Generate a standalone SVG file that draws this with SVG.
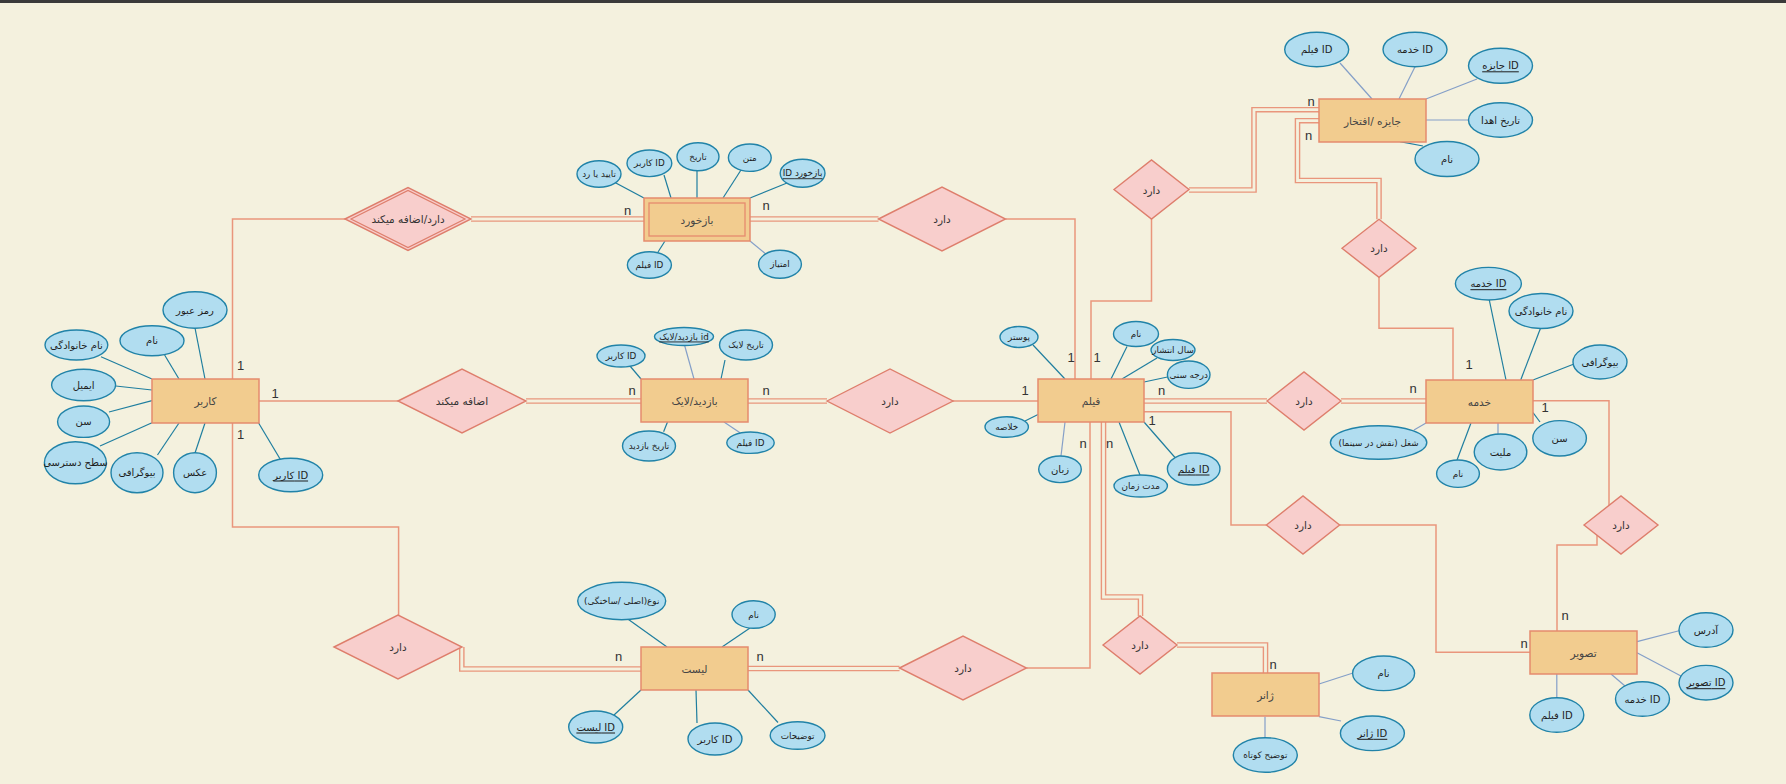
<svg xmlns="http://www.w3.org/2000/svg" width="1786" height="784" viewBox="0 0 1786 784">
<style>
.ent{fill:#F2CC8F;stroke:#E58B6E;stroke-width:1.5}
.rel{fill:#F8CECC;stroke:#DE7E6C;stroke-width:1.4}
.att{fill:#B1DDF0;stroke:#2183A8;stroke-width:1.4}
.al{stroke:#1F7E9F;stroke-width:1.2;fill:none}
.al2{stroke:#849FC8;stroke-width:1.2;fill:none}
.e1{fill:none;stroke:#E9967C;stroke-width:1.5}
.e2o{fill:none;stroke:#E9967C;stroke-width:5.6}
.e2i{fill:none;stroke:#F4F1DE;stroke-width:2.8}
text{font-family:"DejaVu Sans","Liberation Sans",sans-serif;text-anchor:middle;dominant-baseline:central;fill:#1e1e1e}
.t{font-size:10px}
.ts{font-size:8.8px}
.te{font-size:10.5px;fill:#444}
.tr{font-size:10.5px;fill:#333}
.u{text-decoration:underline}
.c{font-family:"Liberation Sans",sans-serif;font-size:13px;fill:#333}
</style>
<rect x="0" y="0" width="1786" height="784" fill="#F4F1DE"/>
<rect x="0" y="0" width="1786" height="3" fill="#3a3a3a"/>

<g id="connectors">
<path class="e1" d="M232.5,379 V219 H345"/>
<path class="e1" d="M1005.5,219 H1075 V379"/>
<path class="e1" d="M259,401 H398"/>
<path class="e1" d="M953,401 H1038"/>
<path class="e1" d="M1151.5,219 V301 H1091 V379"/>
<path class="e1" d="M1379,277.3 V328.3 H1453 V380"/>
<path class="e1" d="M1144,411.7 H1231 V525 H1266.4"/>
<path class="e1" d="M1339.6,525 H1436 V652.3 H1530"/>
<path class="e1" d="M1533,400.7 H1609 V505.4"/>
<path class="e1" d="M1597,535.2 V545 H1557 V631"/>
<path class="e1" d="M232.5,423 V527 H398.6 V615"/>
<path class="e1" d="M1026.5,668 H1090 V422"/>
<path class="e2o" d="M471,219 H644"/><path class="e2i" d="M471,219 H644"/>
<path class="e2o" d="M750,219 H878.5"/><path class="e2i" d="M750,219 H878.5"/>
<path class="e2o" d="M526,401 H641"/><path class="e2i" d="M526,401 H641"/>
<path class="e2o" d="M748,401 H827"/><path class="e2i" d="M748,401 H827"/>
<path class="e2o" d="M1144,401 H1267"/><path class="e2i" d="M1144,401 H1267"/>
<path class="e2o" d="M1341,401 H1426"/><path class="e2i" d="M1341,401 H1426"/>
<path class="e2o" d="M1319,109.7 H1254 V190 H1189"/><path class="e2i" d="M1319,109.7 H1254 V190 H1189"/>
<path class="e2o" d="M1319,120.7 H1297.5 V180.5 H1379 V219.3"/><path class="e2i" d="M1319,120.7 H1297.5 V180.5 H1379 V219.3"/>
<path class="e2o" d="M1103.5,422 V597 H1140.5 V616"/><path class="e2i" d="M1103.5,422 V597 H1140.5 V616"/>
<path class="e2o" d="M461.8,647 V669 H641"/><path class="e2i" d="M461.8,647 V669 H641"/>
<path class="e2o" d="M748,668.5 H899.5"/><path class="e2i" d="M748,668.5 H899.5"/>
<path class="e2o" d="M1177,645 H1265.5 V673"/><path class="e2i" d="M1177,645 H1265.5 V673"/>

<path class="al" d="M614,182 L644,198"/>
<path class="al" d="M664,175 L671,198"/>
<path class="al" d="M697,170.7 L697,198"/>
<path class="al" d="M741,170 L723,198"/>
<path class="al" d="M787,183 L750,198"/>
<path class="al" d="M665,241 L658,252"/>
<path class="al2" d="M750,241 L767,255"/>

<path class="al" d="M195,328 L205,379"/>
<path class="al" d="M164.6,355 L179,379"/>
<path class="al" d="M101,356.7 L152,379"/>
<path class="al" d="M115.7,386 L152,390"/>
<path class="al" d="M109,412 L152,400.7"/>
<path class="al" d="M100,446 L152,422.7"/>
<path class="al" d="M157.5,455 L179,423"/>
<path class="al" d="M195,453 L205,423"/>
<path class="al" d="M280.7,460 L258.6,423"/>

<path class="al" d="M630,366 L641,379"/>
<path class="al2" d="M684.5,345 L694,379"/>
<path class="al" d="M725,360 L721,379"/>
<path class="al" d="M667.5,422 L663.6,431.7"/>
<path class="al2" d="M724,422 L740,432.7"/>

<path class="al" d="M1033,345 L1065,379"/>
<path class="al" d="M1127,346.5 L1111,379"/>
<path class="al" d="M1157,358 L1122,379"/>
<path class="al" d="M1167.5,377 L1144,382"/>
<path class="al" d="M1025,421 L1038,414.5"/>
<path class="al2" d="M1061,456 L1065,422"/>
<path class="al" d="M1140,475 L1119,422"/>
<path class="al" d="M1175,457.5 L1144,422"/>

<path class="al" d="M1489.3,300 L1506,380"/>
<path class="al" d="M1540.4,328.5 L1520.7,380"/>
<path class="al" d="M1574,364 L1533,380"/>
<path class="al" d="M1540,422 L1533,412.7"/>
<path class="al2" d="M1498,434 L1498,423"/>
<path class="al" d="M1457,460 L1471,423"/>
<path class="al2" d="M1414,430 L1426,423"/>

<path class="al2" d="M1340,63 L1372,99"/>
<path class="al2" d="M1415,66.7 L1399,99"/>
<path class="al2" d="M1477,79 L1426,99"/>
<path class="al2" d="M1426,120 L1468.5,120"/>
<path class="al" d="M1400,141.7 L1423,146"/>

<path class="al" d="M628.5,619.5 L667,647"/>
<path class="al" d="M750,628 L722,647"/>
<path class="al" d="M614,715 L641,690"/>
<path class="al" d="M696,690 L697,723"/>
<path class="al" d="M748,690 L778,722.5"/>

<path class="al2" d="M1319,684 L1353,673"/>
<path class="al2" d="M1319,716.7 L1341,721"/>
<path class="al2" d="M1265,716.7 L1265,737.7"/>

<path class="al2" d="M1637,641.7 L1680,630.5"/>
<path class="al2" d="M1637,652.7 L1681,676"/>
<path class="al2" d="M1611,674 L1625,686"/>
<path class="al2" d="M1556.8,674 L1556.8,697.7"/>
</g>

<g id="cardinalities">
<text class="c" x="240.5" y="365">1</text>
<text class="c" x="240.5" y="434">1</text>
<text class="c" x="275" y="393">1</text>
<text class="c" x="627.5" y="210">n</text>
<text class="c" x="766" y="205">n</text>
<text class="c" x="1071" y="357">1</text>
<text class="c" x="1097" y="357">1</text>
<text class="c" x="632" y="390">n</text>
<text class="c" x="766" y="390">n</text>
<text class="c" x="1025" y="390">1</text>
<text class="c" x="1161.5" y="390.5">n</text>
<text class="c" x="1413" y="388">n</text>
<text class="c" x="1469" y="364">1</text>
<text class="c" x="1545" y="407">1</text>
<text class="c" x="1152" y="420">1</text>
<text class="c" x="1083" y="443">n</text>
<text class="c" x="1109.5" y="443">n</text>
<text class="c" x="1311" y="101">n</text>
<text class="c" x="1308.5" y="135">n</text>
<text class="c" x="1565" y="615">n</text>
<text class="c" x="1524" y="643">n</text>
<text class="c" x="1273" y="664">n</text>
<text class="c" x="618.5" y="656">n</text>
<text class="c" x="760" y="656.7">n</text>
</g>

<g id="user"><rect class="ent" x="152" y="379" width="107" height="44"/><text class="te" x="205.5" y="401">کاربر</text></g>
<g id="feedback"><rect class="ent" x="644" y="198" width="106" height="43" stroke-width="2.2"/><rect x="649" y="203" width="96" height="33" fill="none" stroke="#E58B6E" stroke-width="1.3"/><text class="te" x="697" y="219.5">بازخورد</text></g>
<g id="visit"><rect class="ent" x="641" y="379" width="107" height="43"/><text class="te" x="694.5" y="400.5">بازدید/لایک</text></g>
<g id="film"><rect class="ent" x="1038" y="379" width="106" height="43"/><text class="te" x="1091" y="400.5">فیلم</text></g>
<g id="award"><rect class="ent" x="1319" y="99" width="107" height="43"/><text class="te" x="1372.5" y="120.5">جایزه /افتخار</text></g>
<g id="crew"><rect class="ent" x="1426" y="380" width="107" height="43"/><text class="te" x="1479.5" y="401.5">خدمه</text></g>
<g id="list"><rect class="ent" x="641" y="647" width="107" height="43"/><text class="te" x="694.5" y="668.5">لیست</text></g>
<g id="genre"><rect class="ent" x="1212" y="673" width="107" height="43"/><text class="te" x="1265.5" y="694.5">ژانر</text></g>
<g id="image"><rect class="ent" x="1530" y="631" width="107" height="43"/><text class="te" x="1583.5" y="652.5">تصویر</text></g>

<g id="rel-user-feedback"><polygon class="rel" points="345,219 408,187.5 471,219 408,250.5"/><polygon points="351,219 408,190.5 465,219 408,247.5" fill="none" stroke="#DE7E6C" stroke-width="1.2"/><text class="tr" x="408" y="219">دارد/اضافه میکند</text></g>
<g id="rel-feedback-film"><polygon class="rel" points="878.5,219 942,187 1005.5,219 942,251"/><text class="tr" x="942" y="219">دارد</text></g>
<g id="rel-user-visit"><polygon class="rel" points="398,401 462,369 526,401 462,433"/><text class="tr" x="462" y="401">اضافه میکند</text></g>
<g id="rel-visit-film"><polygon class="rel" points="827,401 890,369 953,401 890,433"/><text class="tr" x="890" y="401">دارد</text></g>
<g id="rel-film-award"><polygon class="rel" points="1114,189.5 1151.5,160 1189,189.5 1151.5,219"/><text class="tr" x="1151.5" y="189.5">دارد</text></g>
<g id="rel-award-crew"><polygon class="rel" points="1342,248.3 1379,219.3 1416,248.3 1379,277.3"/><text class="tr" x="1379" y="248.3">دارد</text></g>
<g id="rel-film-crew"><polygon class="rel" points="1267,401 1304,372 1341,401 1304,430"/><text class="tr" x="1304" y="401">دارد</text></g>
<g id="rel-film-image"><polygon class="rel" points="1266.4,525 1303,496 1339.6,525 1303,554"/><text class="tr" x="1303" y="525">دارد</text></g>
<g id="rel-crew-image"><polygon class="rel" points="1584,525 1621,496 1658,525 1621,554"/><text class="tr" x="1621" y="525">دارد</text></g>
<g id="rel-film-genre"><polygon class="rel" points="1103,645 1140,616 1177,645 1140,674"/><text class="tr" x="1140" y="645">دارد</text></g>
<g id="rel-user-list"><polygon class="rel" points="334,647 398,615 462,647 398,679"/><text class="tr" x="398" y="647">دارد</text></g>
<g id="rel-list-film"><polygon class="rel" points="899.5,668 963,636 1026.5,668 963,700"/><text class="tr" x="963" y="668">دارد</text></g>

<g id="fb-approve"><ellipse class="att" cx="599" cy="174" rx="22" ry="13.3"/><text class="ts" x="599" y="174">تایید یا رد</text></g>
<g id="fb-userid"><ellipse class="att" cx="649.4" cy="163.3" rx="22.4" ry="13.3"/><text class="ts" x="649.4" y="163.3">کاربر ID</text></g>
<g id="fb-date"><ellipse class="att" cx="698" cy="156.7" rx="21" ry="14"/><text class="ts" x="698" y="156.7">تاریخ</text></g>
<g id="fb-text"><ellipse class="att" cx="749.8" cy="157.7" rx="21.4" ry="13.7"/><text class="ts" x="749.8" y="157.7">متن</text></g>
<g id="fb-id"><ellipse class="att" cx="802.6" cy="173.3" rx="22.4" ry="14"/><text class="ts u" x="802.6" y="173.3">ID بازخورد</text></g>
<g id="fb-filmid"><ellipse class="att" cx="649.4" cy="265" rx="22" ry="13.3"/><text class="ts" x="649.4" y="265">فیلم ID</text></g>
<g id="fb-score"><ellipse class="att" cx="780" cy="264.3" rx="21.4" ry="14"/><text class="ts" x="780" y="264.3">امتیاز</text></g>

<g id="u-pass"><ellipse class="att" cx="195" cy="310" rx="32" ry="18.3"/><text class="t" x="195" y="310">رمز عبور</text></g>
<g id="u-name"><ellipse class="att" cx="152" cy="340.7" rx="32" ry="15"/><text class="t" x="152" y="340.7">نام</text></g>
<g id="u-family"><ellipse class="att" cx="76.4" cy="345" rx="31.4" ry="15"/><text class="t" x="76.4" y="345">نام خانوادگی</text></g>
<g id="u-email"><ellipse class="att" cx="83.6" cy="385" rx="32" ry="15.7"/><text class="t" x="83.6" y="385">ایمیل</text></g>
<g id="u-age"><ellipse class="att" cx="83.6" cy="421.7" rx="26" ry="15.7"/><text class="t" x="83.6" y="421.7">سن</text></g>
<g id="u-access"><ellipse class="att" cx="75.4" cy="462.7" rx="31" ry="21"/><text class="t" x="75.4" y="462.7">سطح دسترسی</text></g>
<g id="u-bio"><ellipse class="att" cx="137" cy="472.7" rx="26" ry="20"/><text class="t" x="137" y="472.7">بیوگرافی</text></g>
<g id="u-photo"><ellipse class="att" cx="195" cy="472.7" rx="21.4" ry="20"/><text class="t" x="195" y="472.7">عکس</text></g>
<g id="u-id"><ellipse class="att" cx="290.7" cy="475" rx="32" ry="16.7"/><text class="t u" x="290.7" y="475">کاربر ID</text></g>

<g id="v-userid"><ellipse class="att" cx="621" cy="356" rx="24" ry="11"/><text class="ts" x="621" y="356">کاربر ID</text></g>
<g id="v-id"><ellipse class="att" cx="684" cy="336.5" rx="29.5" ry="9"/><text class="ts u" x="684" y="336.5">بازدید/لایک id</text></g>
<g id="v-likedate"><ellipse class="att" cx="746" cy="345" rx="26.5" ry="15"/><text class="ts" x="746" y="345">تاریخ لایک</text></g>
<g id="v-visitdate"><ellipse class="att" cx="649" cy="446" rx="26.5" ry="15"/><text class="ts" x="649" y="446">تاریخ بازدید</text></g>
<g id="v-filmid"><ellipse class="att" cx="750.5" cy="442.7" rx="23.7" ry="10.7"/><text class="ts" x="750.5" y="442.7">فیلم ID</text></g>

<g id="f-poster"><ellipse class="att" cx="1019" cy="337" rx="19" ry="10.5"/><text class="ts" x="1019" y="337">پوستر</text></g>
<g id="f-name"><ellipse class="att" cx="1136" cy="334" rx="22.5" ry="12.5"/><text class="ts" x="1136" y="334">نام</text></g>
<g id="f-year"><ellipse class="att" cx="1173" cy="350" rx="22" ry="10.5"/><text class="ts" x="1173" y="350">سال انتشار</text></g>
<g id="f-rating"><ellipse class="att" cx="1188.7" cy="374.7" rx="21.3" ry="13.7"/><text class="ts" x="1188.7" y="374.7">درجه سنی</text></g>
<g id="f-summary"><ellipse class="att" cx="1006.7" cy="427" rx="21.7" ry="10.3"/><text class="ts" x="1006.7" y="427">خلاصه</text></g>
<g id="f-lang"><ellipse class="att" cx="1060" cy="469.3" rx="21.3" ry="13.3"/><text class="t" x="1060" y="469.3">زبان</text></g>
<g id="f-duration"><ellipse class="att" cx="1140.7" cy="486" rx="26.7" ry="11"/><text class="ts" x="1140.7" y="486">مدت زمان</text></g>
<g id="f-id"><ellipse class="att" cx="1193.7" cy="469" rx="26.3" ry="16"/><text class="t u" x="1193.7" y="469">فیلم ID</text></g>

<g id="a-filmid"><ellipse class="att" cx="1316.7" cy="49.5" rx="32" ry="17.2"/><text class="t" x="1316.7" y="49.5">فیلم ID</text></g>
<g id="a-crewid"><ellipse class="att" cx="1415" cy="49.5" rx="32" ry="17.2"/><text class="t" x="1415" y="49.5">خدمه ID</text></g>
<g id="a-id"><ellipse class="att" cx="1500.5" cy="65.8" rx="32" ry="17.5"/><text class="t u" x="1500.5" y="65.8">جایزه ID</text></g>
<g id="a-date"><ellipse class="att" cx="1500.5" cy="120" rx="32" ry="17.3"/><text class="t" x="1500.5" y="120">تاریخ اهدا</text></g>
<g id="a-name"><ellipse class="att" cx="1447" cy="159" rx="32" ry="17.5"/><text class="t" x="1447" y="159">نام</text></g>

<g id="c-id"><ellipse class="att" cx="1488.4" cy="283.7" rx="33" ry="16.3"/><text class="t u" x="1488.4" y="283.7">خدمه ID</text></g>
<g id="c-family"><ellipse class="att" cx="1541" cy="311" rx="32" ry="17.5"/><text class="t" x="1541" y="311">نام خانوادگی</text></g>
<g id="c-bio"><ellipse class="att" cx="1600" cy="362" rx="27" ry="17"/><text class="t" x="1600" y="362">بیوگرافی</text></g>
<g id="c-age"><ellipse class="att" cx="1559.6" cy="438.3" rx="26.8" ry="17.7"/><text class="t" x="1559.6" y="438.3">سن</text></g>
<g id="c-nation"><ellipse class="att" cx="1500.5" cy="452" rx="26.3" ry="18"/><text class="t" x="1500.5" y="452">ملیت</text></g>
<g id="c-name"><ellipse class="att" cx="1458" cy="473.7" rx="21.4" ry="13.7"/><text class="ts" x="1458" y="473.7">نام</text></g>
<g id="c-job"><ellipse class="att" cx="1378.6" cy="442.5" rx="48.2" ry="16.8"/><text class="ts" x="1378.6" y="442.5">(شغل (نقش در سینما</text></g>

<g id="l-type"><ellipse class="att" cx="621.7" cy="601" rx="44" ry="18.7"/><text class="ts" x="621.7" y="601">(نوع(اصلی /ساختگی</text></g>
<g id="l-name"><ellipse class="att" cx="753.6" cy="614.5" rx="21.6" ry="13.8"/><text class="ts" x="753.6" y="614.5">نام</text></g>
<g id="l-id"><ellipse class="att" cx="595.7" cy="727" rx="27" ry="16"/><text class="t u" x="595.7" y="727">لیست ID</text></g>
<g id="l-userid"><ellipse class="att" cx="715" cy="739" rx="27" ry="16"/><text class="t" x="715" y="739">کاربر ID</text></g>
<g id="l-desc"><ellipse class="att" cx="797.6" cy="735.5" rx="27.4" ry="13.8"/><text class="ts" x="797.6" y="735.5">توضیحات</text></g>

<g id="g-name"><ellipse class="att" cx="1383.6" cy="673.3" rx="31" ry="17.3"/><text class="t" x="1383.6" y="673.3">نام</text></g>
<g id="g-id"><ellipse class="att" cx="1372.4" cy="733.3" rx="32" ry="17.3"/><text class="t u" x="1372.4" y="733.3">ژانر ID</text></g>
<g id="g-desc"><ellipse class="att" cx="1265.3" cy="755" rx="32" ry="17.3"/><text class="ts" x="1265.3" y="755">توضیح کوتاه</text></g>

<g id="i-addr"><ellipse class="att" cx="1706" cy="630" rx="27" ry="17.3"/><text class="t" x="1706" y="630">آدرس</text></g>
<g id="i-id"><ellipse class="att" cx="1706" cy="682.7" rx="27" ry="17.3"/><text class="t u" x="1706" y="682.7">تصویر ID</text></g>
<g id="i-crewid"><ellipse class="att" cx="1642.5" cy="699" rx="27" ry="17.3"/><text class="t" x="1642.5" y="699">خدمه ID</text></g>
<g id="i-filmid"><ellipse class="att" cx="1556.8" cy="715" rx="27" ry="17.3"/><text class="t" x="1556.8" y="715">فیلم ID</text></g>
</svg>
